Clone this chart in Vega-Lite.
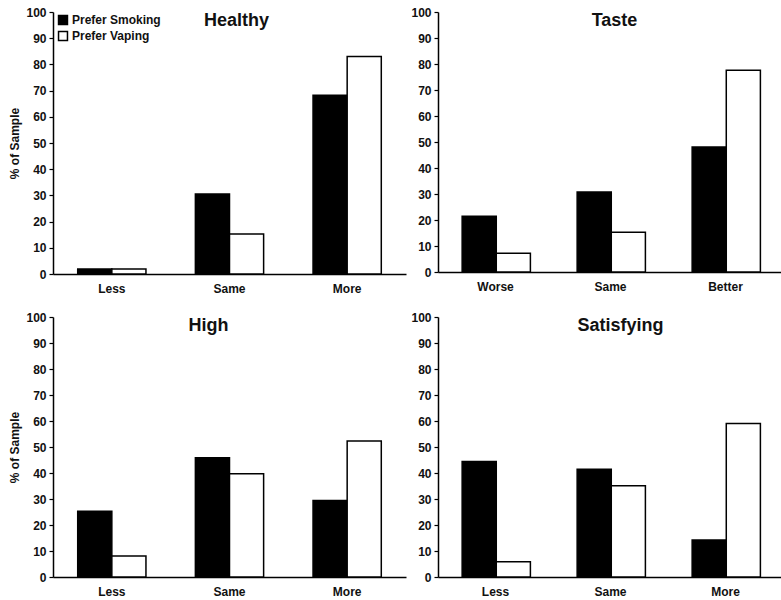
{
  "$schema": "https://vega.github.io/schema/vega-lite/v6.json",
  "padding": {"left": 8, "top": 6, "right": 0, "bottom": 0},
  "background": "white",
  "config": {
    "font": "Liberation Sans",
    "view": {"stroke": null},
    "axis": {"labelFont": "Liberation Sans", "labelFontWeight": "bold", "labelColor": "#111", "labelFontSize": 12, "domainColor": "black", "tickColor": "black", "domainWidth": 1.5, "tickWidth": 1.2, "titleFont": "Liberation Sans", "titleFontWeight": "bold", "titleFontSize": 12, "titleColor": "#111", "grid": false},
    "title": {"font": "Liberation Sans", "fontSize": 18, "fontWeight": "bold", "color": "#111", "anchor": "middle"},
    "legend": {"labelFont": "Liberation Sans", "labelFontWeight": "bold", "labelFontSize": 12, "labelColor": "#111"}
  },
  "data": {"values": [
    {"panel": "Healthy", "category": "Less", "group": "Prefer Smoking", "value": 1.9},
    {"panel": "Healthy", "category": "Less", "group": "Prefer Vaping", "value": 1.9},
    {"panel": "Healthy", "category": "Same", "group": "Prefer Smoking", "value": 30.5},
    {"panel": "Healthy", "category": "Same", "group": "Prefer Vaping", "value": 15.3},
    {"panel": "Healthy", "category": "More", "group": "Prefer Smoking", "value": 68.2},
    {"panel": "Healthy", "category": "More", "group": "Prefer Vaping", "value": 83.0},
    {"panel": "Taste", "category": "Worse", "group": "Prefer Smoking", "value": 21.4},
    {"panel": "Taste", "category": "Worse", "group": "Prefer Vaping", "value": 7.2},
    {"panel": "Taste", "category": "Same", "group": "Prefer Smoking", "value": 30.8},
    {"panel": "Taste", "category": "Same", "group": "Prefer Vaping", "value": 15.3},
    {"panel": "Taste", "category": "Better", "group": "Prefer Smoking", "value": 48.1},
    {"panel": "Taste", "category": "Better", "group": "Prefer Vaping", "value": 77.6},
    {"panel": "High", "category": "Less", "group": "Prefer Smoking", "value": 25.3},
    {"panel": "High", "category": "Less", "group": "Prefer Vaping", "value": 8.1},
    {"panel": "High", "category": "Same", "group": "Prefer Smoking", "value": 45.9},
    {"panel": "High", "category": "Same", "group": "Prefer Vaping", "value": 39.7},
    {"panel": "High", "category": "More", "group": "Prefer Smoking", "value": 29.4},
    {"panel": "High", "category": "More", "group": "Prefer Vaping", "value": 52.3},
    {"panel": "Satisfying", "category": "Less", "group": "Prefer Smoking", "value": 44.4},
    {"panel": "Satisfying", "category": "Less", "group": "Prefer Vaping", "value": 5.9},
    {"panel": "Satisfying", "category": "Same", "group": "Prefer Smoking", "value": 41.4},
    {"panel": "Satisfying", "category": "Same", "group": "Prefer Vaping", "value": 35.1},
    {"panel": "Satisfying", "category": "More", "group": "Prefer Smoking", "value": 14.2},
    {"panel": "Satisfying", "category": "More", "group": "Prefer Vaping", "value": 59.0}
  ]},
  "spacing": 17,
  "vconcat": [
    {
      "spacing": 4,
      "hconcat": [
        {
          "width": 353, "height": 262,
          "title": {"text": "Healthy", "offset": -24, "dx": 7},
          "transform": [{"filter": "datum.panel === 'Healthy'"}],
          "mark": {"type": "bar", "stroke": "black", "strokeWidth": 1.5},
          "encoding": {
            "x": {"field": "category", "type": "nominal", "sort": ["Less", "Same", "More"], "scale": {"paddingInner": 0.42, "paddingOuter": 0.21}, "axis": {"title": null, "labelAngle": 0, "ticks": false, "labelPadding": 9}},
            "xOffset": {"field": "group", "type": "nominal", "sort": ["Prefer Smoking", "Prefer Vaping"], "scale": {"paddingInner": 0}},
            "y": {"field": "value", "type": "quantitative", "scale": {"domain": [0, 100]}, "axis": {"title": "% of Sample", "values": [0, 10, 20, 30, 40, 50, 60, 70, 80, 90, 100], "tickSize": 4, "labelPadding": 3, "titlePadding": 4}},
            "fill": {"field": "group", "type": "nominal", "scale": {"domain": ["Prefer Smoking", "Prefer Vaping"], "range": ["black", "white"]}, "legend": {"title": null, "orient": "none", "legendX": 4, "legendY": 2, "symbolType": "square", "symbolSize": 80, "symbolStrokeColor": "black", "symbolStrokeWidth": 1.5, "rowPadding": 0, "labelOffset": 3}}
          }
        },
        {
          "width": 345, "height": 260,
          "title": {"text": "Taste", "offset": -24, "dx": 4},
          "transform": [{"filter": "datum.panel === 'Taste'"}],
          "mark": {"type": "bar", "stroke": "black", "strokeWidth": 1.5},
          "encoding": {
            "x": {"field": "category", "type": "nominal", "sort": ["Worse", "Same", "Better"], "scale": {"paddingInner": 0.42, "paddingOuter": 0.21}, "axis": {"title": null, "labelAngle": 0, "ticks": false, "labelPadding": 9}},
            "xOffset": {"field": "group", "type": "nominal", "sort": ["Prefer Smoking", "Prefer Vaping"], "scale": {"paddingInner": 0}},
            "y": {"field": "value", "type": "quantitative", "scale": {"domain": [0, 100]}, "axis": {"title": null, "values": [0, 10, 20, 30, 40, 50, 60, 70, 80, 90, 100], "tickSize": 4, "labelPadding": 3}},
            "fill": {"field": "group", "type": "nominal", "scale": {"domain": ["Prefer Smoking", "Prefer Vaping"], "range": ["black", "white"]}, "legend": {"title": null, "orient": "none", "legendX": 4, "legendY": 2, "symbolType": "square", "symbolSize": 80, "symbolStrokeColor": "black", "symbolStrokeWidth": 1.5, "rowPadding": 0, "labelOffset": 3}}
          }
        }
      ]
    },
    {
      "spacing": 4,
      "hconcat": [
        {
          "width": 353, "height": 260,
          "title": {"text": "High", "offset": -24, "dx": -21},
          "transform": [{"filter": "datum.panel === 'High'"}],
          "mark": {"type": "bar", "stroke": "black", "strokeWidth": 1.5},
          "encoding": {
            "x": {"field": "category", "type": "nominal", "sort": ["Less", "Same", "More"], "scale": {"paddingInner": 0.42, "paddingOuter": 0.21}, "axis": {"title": null, "labelAngle": 0, "ticks": false, "labelPadding": 9}},
            "xOffset": {"field": "group", "type": "nominal", "sort": ["Prefer Smoking", "Prefer Vaping"], "scale": {"paddingInner": 0}},
            "y": {"field": "value", "type": "quantitative", "scale": {"domain": [0, 100]}, "axis": {"title": "% of Sample", "values": [0, 10, 20, 30, 40, 50, 60, 70, 80, 90, 100], "tickSize": 4, "labelPadding": 3, "titlePadding": 4}},
            "fill": {"field": "group", "type": "nominal", "scale": {"domain": ["Prefer Smoking", "Prefer Vaping"], "range": ["black", "white"]}, "legend": {"title": null, "orient": "none", "legendX": 4, "legendY": 2, "symbolType": "square", "symbolSize": 80, "symbolStrokeColor": "black", "symbolStrokeWidth": 1.5, "rowPadding": 0, "labelOffset": 3}}
          }
        },
        {
          "width": 345, "height": 260,
          "title": {"text": "Satisfying", "offset": -24, "dx": 10},
          "transform": [{"filter": "datum.panel === 'Satisfying'"}],
          "mark": {"type": "bar", "stroke": "black", "strokeWidth": 1.5},
          "encoding": {
            "x": {"field": "category", "type": "nominal", "sort": ["Less", "Same", "More"], "scale": {"paddingInner": 0.42, "paddingOuter": 0.21}, "axis": {"title": null, "labelAngle": 0, "ticks": false, "labelPadding": 9}},
            "xOffset": {"field": "group", "type": "nominal", "sort": ["Prefer Smoking", "Prefer Vaping"], "scale": {"paddingInner": 0}},
            "y": {"field": "value", "type": "quantitative", "scale": {"domain": [0, 100]}, "axis": {"title": null, "values": [0, 10, 20, 30, 40, 50, 60, 70, 80, 90, 100], "tickSize": 4, "labelPadding": 3}},
            "fill": {"field": "group", "type": "nominal", "scale": {"domain": ["Prefer Smoking", "Prefer Vaping"], "range": ["black", "white"]}, "legend": {"title": null, "orient": "none", "legendX": 4, "legendY": 2, "symbolType": "square", "symbolSize": 80, "symbolStrokeColor": "black", "symbolStrokeWidth": 1.5, "rowPadding": 0, "labelOffset": 3}}
          }
        }
      ]
    }
  ]
}
